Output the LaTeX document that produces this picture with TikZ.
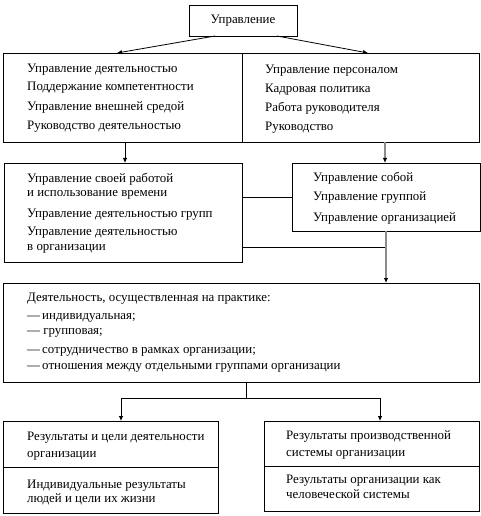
\documentclass[tikz,border=0pt]{standalone}
\usepackage{fontspec}
\setmainfont{Liberation Serif}
\usetikzlibrary{arrows.meta,calc}
\tikzset{
  box/.style={draw, line width=0.8bp, inner sep=0pt, outer sep=0pt},
  txt/.style={anchor=base west, inner sep=0pt, font=\fontsize{12.9bp}{14bp}\selectfont},
  conn/.style={line width=0.8bp},
  arr/.style={line width=0.8bp, -{Latex[length=5bp,width=4.5bp,color=black]}},
  grayline/.style={draw=black!45, line width=1.2bp}
}
\begin{document}
\begin{tikzpicture}[x=1bp,y=-1bp]
\useasboundingbox (0,0) rectangle (481,516);
% boxes
\node[box, minimum width=108bp, minimum height=31bp, font=\rmfamily\fontsize{12.9bp}{14bp}\selectfont] (top) at (243,20.5) {Управление};
\node[box, minimum width=239bp, minimum height=89bp] (r2l) at (122.5,97.5) {};
\node[box, minimum width=237bp, minimum height=89bp] (r2r) at (360.5,97.5) {};
\node[box, minimum width=238bp, minimum height=99bp] (r3l) at (123,212.5) {};
\node[box, minimum width=188bp, minimum height=68bp] (r3r) at (386,197) {};
\node[box, minimum width=476bp, minimum height=99bp] (r4) at (241,332.5) {};
\node[box, minimum width=215bp, minimum height=46bp] (r5lt) at (110.5,444) {};
\node[box, minimum width=215bp, minimum height=46bp] (r5lb) at (110.5,490) {};
\node[box, minimum width=215bp, minimum height=45bp] (r5rt) at (371.5,443.5) {};
\node[box, minimum width=215bp, minimum height=45bp] (r5rb) at (371.5,488.5) {};
% texts row 2
\node[txt] (a1) at (27,73) {Управление деятельностью};
\node[txt] (a2) at (27,91) {Поддержание компетентности};
\node[txt] (a3) at (27,111) {Управление внешней средой};
\node[txt] (a4) at (27,130) {Руководство деятельностью};
\node[txt] (b1) at (265,74) {Управление персоналом};
\node[txt] (b2) at (265,93) {Кадровая политика};
\node[txt] (b3) at (265,112) {Работа руководителя};
\node[txt] (b4) at (265,131) {Руководство};
% texts row 3
\node[txt] (c1) at (27,183) {Управление своей работой};
\node[txt] (c2) at (27,197) {и использование времени};
\node[txt] (c3) at (27,217) {Управление деятельностью групп};
\node[txt] (c4) at (27,235) {Управление деятельностью};
\node[txt] (c5) at (27,250) {в организации};
\node[txt] (d1) at (313,182) {Управление собой};
\node[txt] (d2) at (313,201) {Управление группой};
\node[txt] (d3) at (313,221) {Управление организацией};
% texts row 4
\node[txt] (e1) at (27,301) {Деятельность, осуществленная на практике:};
\node[txt] (e2) at (27,319) {—\,индивидуальная;};
\node[txt] (e3) at (27,334) {— групповая;};
\node[txt] (e4) at (27,353) {—\,сотрудничество в рамках организации;};
\node[txt] (e5) at (27,369) {—\,отношения между отдельными группами организации};
% texts row 5
\node[txt] (f1) at (27,440) {Результаты и цели деятельности};
\node[txt] (f2) at (27,457) {организации};
\node[txt] (f3) at (27,488) {Индивидуальные результаты};
\node[txt] (f4) at (27,502) {людей и цели их жизни};
\node[txt] (g1) at (286,439) {Результаты производственной};
\node[txt] (g2) at (286,456) {системы организации};
\node[txt] (g3) at (286,483) {Результаты организации как};
\node[txt] (g4) at (286,498) {человеческой системы};
% connectors
\draw[arr] ([xshift=-28bp]top.south) -- ([xshift=-5.5bp]r2l.north);
\draw[arr] ([xshift=34bp]top.south) -- ([xshift=7.5bp]r2r.north);
\draw[arr] ([xshift=2.5bp]r2l.south) -- ([xshift=2.5bp]r2l.south |- r3l.north);
\draw[arr, grayline] ([xshift=24.5bp]r2r.south) -- ([xshift=24.5bp]r2r.south |- r3r.north);
\draw[conn] (r3l.east |- r3r.west) -- (r3r.west);
\coordinate (m) at ([yshift=-34.5bp]r3l.east -| r3r.south);
\draw[conn] ([yshift=-34.5bp]r3l.east) -- (m);
\draw[arr, grayline] (r3r.south) -- (r3r.south |- r4.north);
\coordinate (j) at (246,398);
\coordinate (jl) at (121,398);
\coordinate (jr) at (380,398);
\draw[conn] (r4.south -| j) -- (j);
\draw[arr] (j) -- (jl) -- (jl |- r5lt.north);
\draw[arr] (j) -- (jr) -- (jr |- r5rt.north);
\end{tikzpicture}
\end{document}
